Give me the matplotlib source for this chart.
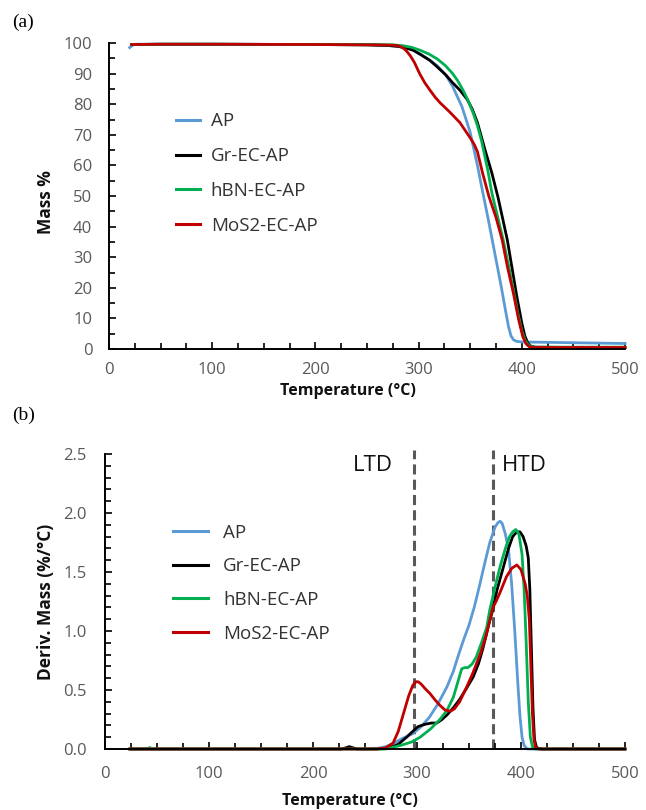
import matplotlib
matplotlib.use("Agg")
import matplotlib.pyplot as plt
from matplotlib.ticker import MultipleLocator, FormatStrFormatter

# ---------------- data: TGA (mass %) ----------------
AP_T = [20, 23, 26, 50, 100, 200, 250, 270, 280, 288, 295, 302, 310, 318, 327, 333, 342, 350, 357, 362,
        368, 374, 380, 384, 387, 389.5, 392, 395, 400, 420, 460, 500]
AP_m = [98.5, 99.3, 99.6, 99.6, 99.6, 99.5, 99.4, 99.2, 98.9, 98.4, 97.6, 96.3, 94.6, 92.6, 89.2, 85.8, 79.2, 70.8, 60.0, 51.5,
        41.5, 31.0, 20.5, 13.0, 7.5, 4.3, 3.0, 2.5, 2.3, 2.2, 2.0, 1.8]

Gr_T = [22, 50, 100, 200, 250, 270, 280, 288, 295, 302, 311, 318, 326, 333, 340, 347, 352, 357, 364, 371, 377,
        386, 395, 400, 403, 406, 409, 413, 450, 500]
Gr_m = [99.5, 99.6, 99.6, 99.5, 99.4, 99.2, 98.9, 98.4, 97.6, 96.2, 94.3, 92.2, 89.7, 87.0, 84.6, 81.6, 78.4, 74.0, 65.5, 57.5, 49.5,
        35.6, 17.5, 8.5, 4.2, 1.8, 0.9, 0.6, 0.5, 0.5]

hBN_T = [22, 50, 100, 200, 250, 275, 285, 293, 301, 310, 318, 326, 333, 338, 343, 348, 353, 357, 361, 367, 371,
         376, 382, 387, 392, 396, 400, 403, 406, 409, 412, 450, 500]
hBN_m = [99.5, 99.6, 99.6, 99.5, 99.5, 99.4, 99.1, 98.6, 97.7, 96.4, 94.8, 92.6, 90.0, 87.6, 84.6, 81.2, 77.0, 73.0, 68.0, 58.5, 51.0,
         44.0, 35.6, 27.5, 19.0, 12.0, 6.0, 3.0, 1.4, 0.8, 0.6, 0.6, 0.6]

MoS_T = [22, 50, 100, 200, 250, 275, 280, 284, 288, 292, 296, 301, 306, 311, 316, 321, 330, 340, 350, 354, 357,
         362, 368, 375, 381, 386, 392, 397, 401, 404, 407, 410, 450, 500]
MoS_m = [99.5, 99.6, 99.6, 99.5, 99.4, 99.3, 99.1, 98.6, 97.5, 95.8, 93.6, 90.0, 87.0, 84.6, 82.3, 80.4, 77.5, 74.0, 69.0, 66.8, 64.5,
         57.5, 50.0, 43.0, 35.6, 27.0, 18.0, 9.5, 4.0, 1.8, 0.8, 0.5, 0.5, 0.5]

# ---------------- data: DTG (deriv. mass %/°C) ----------------
AP_dT = [24, 100, 200, 250, 262, 270, 278, 286, 296, 304, 312, 320, 329, 335, 340, 345, 350, 355, 360, 365, 370,
         375, 378, 380, 382, 385, 388, 391, 394, 397, 399, 401, 403, 406, 420, 500]
AP_d = [0, 0, 0, 0, 0.005, 0.02, 0.05, 0.09, 0.13, 0.19, 0.27, 0.38, 0.53, 0.66, 0.80, 0.93, 1.05, 1.20, 1.38, 1.57, 1.75,
        1.88, 1.92, 1.93, 1.91, 1.82, 1.69, 1.40, 1.00, 0.55, 0.28, 0.10, 0.03, 0.0, 0.0, 0.0]

Gr_dT = [24, 200, 228, 235, 242, 260, 268, 274, 282, 290, 296, 301, 308, 314, 319, 324, 329, 335, 341, 348, 354, 359,
         363, 367, 370, 372, 377, 383, 388, 392, 396, 399, 402, 405, 407, 408.5, 410, 411.5, 413, 415, 420, 500]
Gr_d = [0, 0, 0, 0.02, 0, 0, 0.003, 0.01, 0.04, 0.10, 0.15, 0.19, 0.21, 0.22, 0.22, 0.25, 0.29, 0.35, 0.42, 0.52, 0.61, 0.72,
        0.84, 0.98, 1.09, 1.15, 1.35, 1.54, 1.70, 1.80, 1.84, 1.84, 1.80, 1.72, 1.62, 1.35, 0.85, 0.35, 0.08, 0.01, 0.0, 0.0]

hBN_dT = [24, 40, 43, 46, 60, 200, 270, 284, 295, 303, 313, 322, 329, 335, 339, 343, 346, 349, 353, 357, 362, 367, 370,
          375, 380, 385, 389, 392, 395, 398, 401, 403, 405, 407, 409, 411, 414, 500]
hBN_d = [0, 0, 0.012, 0, 0, 0, 0, 0.03, 0.06, 0.10, 0.17, 0.25, 0.33, 0.44, 0.56, 0.68, 0.69, 0.69, 0.72, 0.78, 0.90, 1.03, 1.18,
         1.37, 1.55, 1.70, 1.80, 1.84, 1.86, 1.82, 1.65, 1.35, 0.90, 0.40, 0.10, 0.02, 0.0, 0.0]

MoS_dT = [24, 100, 200, 262, 270, 277, 282, 287, 292, 296, 299, 301, 304, 308, 312.5, 317, 322, 327, 332, 336, 341,
          348, 354, 361, 366, 370, 373, 376, 380, 386, 391, 396, 400, 404, 406, 408, 409.5, 411, 412.5, 414, 417, 500]
MoS_d = [0, 0, 0, 0, 0.01, 0.05, 0.15, 0.30, 0.45, 0.54, 0.57, 0.57, 0.55, 0.51, 0.47, 0.42, 0.37, 0.33, 0.32, 0.34, 0.40,
         0.53, 0.65, 0.81, 0.95, 1.09, 1.20, 1.25, 1.33, 1.46, 1.53, 1.56, 1.52, 1.40, 1.30, 1.10, 0.70, 0.30, 0.08, 0.01, 0.0, 0.0]

labels = ["AP", "Gr-EC-AP", "hBN-EC-AP", "MoS2-EC-AP"]
colors = ["#5B9BD5", "#000000", "#00B050", "#C00000"]
zone_T = [297, 373]
zone_labels = ["LTD", "HTD"]
zone_label_T = [258, 403]
zone_label_y = 2.40

TICK_FONT = "Open Sans"
tick_color = "#595959"

fig = plt.figure(figsize=(6.46, 8.10), dpi=100)
ax1 = fig.add_axes([109 / 646, 1 - 349 / 810, 516 / 646, 306 / 810])
ax2 = fig.add_axes([105 / 646, 1 - 749 / 810, 520 / 646, 295 / 810])

tga = [(AP_T, AP_m), (Gr_T, Gr_m), (hBN_T, hBN_m), (MoS_T, MoS_m)]
dtg = [(AP_dT, AP_d), (Gr_dT, Gr_d), (hBN_dT, hBN_d), (MoS_dT, MoS_d)]

for (t, m), lab, c in zip(tga, labels, colors):
    ax1.plot(t, m, color=c, lw=2.0, label=lab, clip_on=False, solid_joinstyle="round")
for (t, d), lab, c in zip(dtg, labels, colors):
    ax2.plot(t, d, color=c, lw=2.0, label=lab, clip_on=False, solid_joinstyle="round")

ax2.vlines(zone_T, 0, 2.53, colors="#595959", linestyles=(0, (3.3, 1.7)), lw=2.2, clip_on=False, zorder=1)
for xt, lab in zip(zone_label_T, zone_labels):
    ax2.text(xt, zone_label_y, lab, fontsize=16, family=TICK_FONT, color="#111111", ha="center", va="center")

for ax in (ax1, ax2):
    ax.set_xlim(0, 500)
    ax.xaxis.set_major_locator(MultipleLocator(100))
    ax.xaxis.set_minor_locator(MultipleLocator(25))
    for s in ("top", "right"):
        ax.spines[s].set_visible(False)
    for s in ("left", "bottom"):
        ax.spines[s].set_linewidth(1.4)
        ax.spines[s].set_color("black")
    ax.tick_params(which="both", direction="in", color="black", width=1.2)
    ax.tick_params(which="major", length=5)
    ax.tick_params(which="minor", length=4)
    ax.tick_params(axis="both", labelsize=12, labelcolor=tick_color)

ax1.set_ylim(0, 100)
ax1.yaxis.set_major_locator(MultipleLocator(10))
ax1.yaxis.set_minor_locator(MultipleLocator(5))
ax1.tick_params(axis="x", pad=9)
ax1.tick_params(axis="y", pad=12)

ax2.set_ylim(0, 2.5)
ax2.yaxis.set_major_locator(MultipleLocator(0.5))
ax2.yaxis.set_minor_locator(MultipleLocator(0.1))
ax2.yaxis.set_major_formatter(FormatStrFormatter("%.1f"))
ax2.tick_params(axis="x", pad=12)
ax2.tick_params(axis="y", pad=13)

for ax in (ax1, ax2):
    for lbl in ax.get_xticklabels() + ax.get_yticklabels():
        lbl.set_fontfamily(TICK_FONT)

ax1.set_ylabel("Mass %", fontsize=12.5, fontweight="bold", family=TICK_FONT, color="#111111")
ax1.yaxis.set_label_coords(-0.105, 0.48)
ax1.set_xlabel("Temperature (°C)", fontsize=11.5, fontweight="bold", family=TICK_FONT, color="#111111")
ax1.xaxis.set_label_coords(0.463, -0.112)

ax2.set_ylabel("Deriv. Mass (%/°C)", fontsize=12.5, fontweight="bold", family=TICK_FONT, color="#111111")
ax2.yaxis.set_label_coords(-0.096, 0.498)
ax2.set_xlabel("Temperature (°C)", fontsize=11.5, fontweight="bold", family=TICK_FONT, color="#111111")
ax2.xaxis.set_label_coords(0.471, -0.148)

leg1 = ax1.legend(loc="upper left", bbox_to_anchor=(0.13, 0.773), frameon=False, borderpad=0, borderaxespad=0,
                  labelspacing=0.89, handlelength=1.3, handletextpad=0.55,
                  prop={"family": TICK_FONT, "size": 13.5})
leg2 = ax2.legend(loc="upper left", bbox_to_anchor=(0.131, 0.763), frameon=False, borderpad=0, borderaxespad=0,
                  labelspacing=0.83, handlelength=1.87, handletextpad=0.8,
                  prop={"family": TICK_FONT, "size": 13.5})
for leg in (leg1, leg2):
    for t in leg.get_texts():
        t.set_color("#333333")
    for h in leg.get_lines():
        h.set_linewidth(2.2)

fig.text(12 / 646, 1 - 22 / 810, "(a)", fontsize=14, family="Liberation Serif", va="center", ha="left")
fig.text(12 / 646, 1 - 415 / 810, "(b)", fontsize=14, family="Liberation Serif", va="center", ha="left")

fig.savefig("out.png", dpi=100, facecolor="white")
